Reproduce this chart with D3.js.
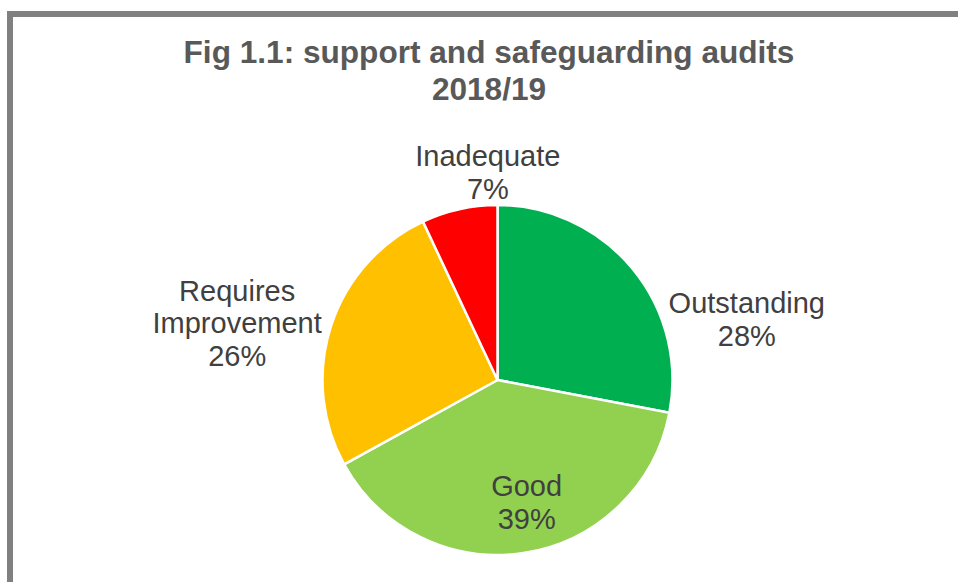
<!DOCTYPE html>
<html>
<head>
<meta charset="utf-8">
<script src="https://cdn.jsdelivr.net/npm/d3@7"></script>
<style>
  html, body { margin: 0; padding: 0; background: #fff; }
  svg { display: block; }
</style>
</head>
<body>
<svg id="chart" width="958" height="582"></svg>
<script>
// Audit outcomes, 2018/19 (share of audits, %)
const categories = ["Outstanding", "Good", "Requires Improvement", "Inadequate"];
const shares = [28, 39, 26, 7];
const labelLines = [["Outstanding"], ["Good"], ["Requires", "Improvement"], ["Inadequate"]];
const sliceColors = ["#00B050", "#92D050", "#FFC000", "#FF0000"];
const titleLines = ["Fig 1.1: support and safeguarding audits", "2018/19"];

const W = 958, H = 582;
const svg = d3.select("#chart");

// Outer frame
svg.append("rect")
  .attr("x", 10).attr("y", 14)
  .attr("width", W + 20).attr("height", H + 20)
  .attr("fill", "#fff")
  .attr("stroke", "#808080")
  .attr("stroke-width", 6);

// Title
const title = svg.append("text")
  .attr("text-anchor", "middle")
  .attr("font-family", "'Liberation Sans', Arial, sans-serif")
  .attr("font-weight", "bold")
  .attr("font-size", 31.6)
  .attr("fill", "#595959");
title.selectAll("tspan").data(titleLines).join("tspan")
  .attr("x", 489)
  .attr("y", (d, i) => 62.5 + i * 37.5)
  .text(d => d);

// Pie
const cx = 497.5, cy = 380, r = 175;
const pie = d3.pie().sort(null).value(d => d.value);
const arcs = pie(categories.map((c, i) => ({ name: c, value: shares[i], color: sliceColors[i], lines: labelLines[i] })));
const arc = d3.arc().innerRadius(0).outerRadius(r);

const g = svg.append("g").attr("transform", `translate(${cx},${cy})`);
g.selectAll("path").data(arcs).join("path")
  .attr("d", arc)
  .attr("fill", d => d.data.color)
  .attr("stroke", "#fff")
  .attr("stroke-width", 2.5)
  .attr("stroke-linejoin", "round");

// Data labels: outside the pie, except the large slice which is labelled inside
const outerLabelArc = d3.arc().innerRadius(r * 1.3).outerRadius(r * 1.3);
const innerLabelArc = d3.arc().innerRadius(r * 0.7).outerRadius(r * 0.7);
const insideLabel = { "Good": true };
const nudge = {
  "Outstanding": [74, 84],
  "Good": [10, 1],
  "Requires Improvement": [-44, 13],
  "Inadequate": [40, 14]
};

const fontSize = 29, lineGap = 32.5, capH = 0.716 * fontSize;
arcs.forEach(d => {
  const base = (insideLabel[d.data.name] ? innerLabelArc : outerLabelArc).centroid(d);
  const n = nudge[d.data.name];
  const x = base[0] + n[0], y = base[1] + n[1];
  const lines = d.data.lines.concat([d.data.value + "%"]);
  const blockH = capH + (lines.length - 1) * lineGap;
  const firstBaseline = y - blockH / 2 + capH;
  const t = g.append("text")
    .attr("text-anchor", "middle")
    .attr("font-family", "'Liberation Sans', Arial, sans-serif")
    .attr("font-size", fontSize)
    .attr("fill", "#404040");
  t.selectAll("tspan").data(lines).join("tspan")
    .attr("x", x)
    .attr("y", (s, i) => firstBaseline + i * lineGap)
    .text(s => s);
});
</script>
</body>
</html>
